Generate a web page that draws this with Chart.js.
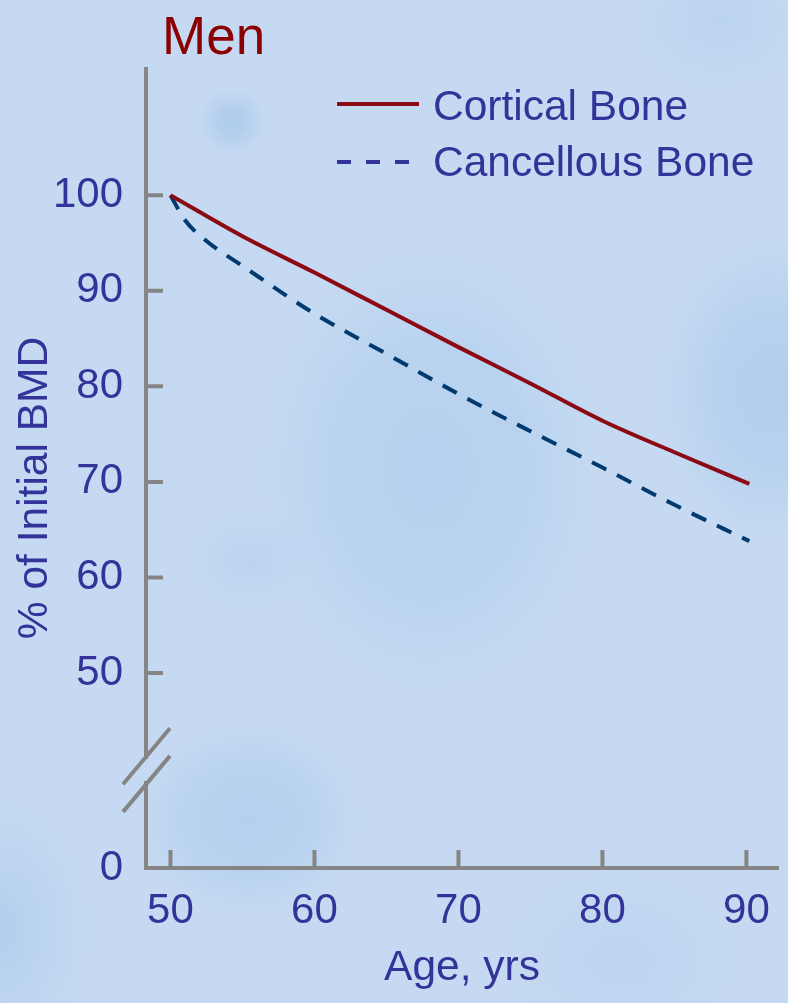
<!DOCTYPE html>
<html>
<head>
<meta charset="utf-8">
<title>Men - % of Initial BMD</title>
<script src="https://cdn.jsdelivr.net/npm/chart.js@4.4.1/dist/chart.umd.min.js"></script>
<style>
  html, body { margin: 0; padding: 0; }
  body {
    width: 788px;
    height: 1003px;
    overflow: hidden;
    background-color: #c5daf2;
    background-image:
      radial-gradient(circle at 232px 122px, #aecbec 0, #b4cfee 14px, rgba(197,218,242,0) 34px),
      radial-gradient(ellipse 170px 220px at 430px 470px, #b6d1ef 0, #b9d3ef 55%, rgba(197,218,242,0) 100%),
      radial-gradient(ellipse 110px 150px at 770px 390px, #b3cfee 0, #b7d1ef 50%, rgba(197,218,242,0) 100%),
      radial-gradient(ellipse 110px 95px at 250px 820px, #b5d0ee 0, #b8d2ef 55%, rgba(197,218,242,0) 100%),
      radial-gradient(ellipse 90px 130px at 0px 930px, #b2ceed 0, rgba(197,218,242,0) 100%),
      radial-gradient(ellipse 90px 70px at 720px 20px, #bad3ef 0, rgba(197,218,242,0) 100%),
      radial-gradient(ellipse 60px 50px at 250px 560px, #bad3ef 0, rgba(197,218,242,0) 100%),
      radial-gradient(ellipse 120px 90px at 620px 960px, #bcd4f0 0, rgba(197,218,242,0) 100%);
  }
  #wrap { position: relative; width: 788px; height: 1003px; }
</style>
</head>
<body>
<div id="wrap"><canvas id="bmdChart" width="788" height="1003"></canvas></div>
<script>
// ---- data ----
const corticalAges = [50, 55, 60, 65, 70, 75, 80, 85, 90.2];
const corticalBone = [100, 95.7, 91.9, 88.0, 84.1, 80.3, 76.4, 73.1, 69.8];

const cancellousAges = [50, 51, 52.5, 55, 60, 65, 70, 75, 80, 85, 90.2];
const cancellousBone = [100, 97.4, 95.2, 92.6, 87.6, 83.4, 79.2, 75.3, 71.5, 67.6, 63.8];

const xTickValues = [50, 60, 70, 80, 90];
// the lowest tick sits below the axis break and stands for 0
const yTickValues = [29.6, 50, 60, 70, 80, 90, 100];
const yTickLabels = ['0', '50', '60', '70', '80', '90', '100'];

const seriesNames = ['Cortical Bone', 'Cancellous Bone'];
const chartTitle = 'Men';
const xTitle = 'Age, yrs';
const yTitle = '% of Initial BMD';

// ---- styling ----
const FONT = "'Liberation Sans', Arial, Helvetica, sans-serif";
const TEXT_BLUE = '#333399';
const AXIS_GREY = '#858585';
const RED = '#8b0a14';
const NAVY = '#003a6e';
const BREAK_AT = [41.3, 38.4];

const toPoints = (xs, ys) => xs.map((x, i) => ({ x, y: ys[i] }));

const decorPlugin = {
  id: 'decor',
  afterDraw(chart) {
    const { ctx, chartArea, scales: { x, y } } = chart;
    ctx.save();

    // inward tick marks
    ctx.strokeStyle = AXIS_GREY;
    ctx.lineWidth = 4;
    ctx.lineCap = 'butt';
    ctx.beginPath();
    xTickValues.forEach(v => {
      const px = x.getPixelForValue(v);
      ctx.moveTo(px, chartArea.bottom);
      ctx.lineTo(px, chartArea.bottom - 18);
    });
    yTickValues.slice(1).forEach(v => {
      const py = y.getPixelForValue(v);
      ctx.moveTo(chartArea.left, py);
      ctx.lineTo(chartArea.left + 17, py);
    });
    ctx.stroke();

    // axis break
    const b1 = y.getPixelForValue(BREAK_AT[0]);
    const b2 = y.getPixelForValue(BREAK_AT[1]);
    ctx.clearRect(chartArea.left - 4, b1 + 3, 8, b2 - b1 - 6);
    ctx.beginPath();
    [b1, b2].forEach(py => {
      ctx.moveTo(chartArea.left - 23, py + 28);
      ctx.lineTo(chartArea.left + 24, py - 28);
    });
    ctx.stroke();

    // title
    ctx.fillStyle = '#8b0000';
    ctx.font = `53px ${FONT}`;
    ctx.textAlign = 'left';
    ctx.textBaseline = 'alphabetic';
    ctx.fillText(chartTitle, 162, 54);

    // legend
    ctx.lineWidth = 4;
    ctx.strokeStyle = RED;
    ctx.beginPath();
    ctx.moveTo(337, 104);
    ctx.lineTo(419, 104);
    ctx.stroke();
    ctx.strokeStyle = TEXT_BLUE;
    ctx.setLineDash([14, 15]);
    ctx.beginPath();
    ctx.moveTo(337, 162);
    ctx.lineTo(411, 162);
    ctx.stroke();
    ctx.setLineDash([]);
    ctx.fillStyle = TEXT_BLUE;
    ctx.font = `42.5px ${FONT}`;
    ctx.fillText(seriesNames[0], 433, 120);
    ctx.fillText(seriesNames[1], 433, 176);

    // y axis title
    ctx.translate(47, 488);
    ctx.rotate(-Math.PI / 2);
    ctx.textAlign = 'center';
    ctx.fillText(yTitle, 0, 0);

    ctx.restore();
  }
};

new Chart(document.getElementById('bmdChart'), {
  type: 'line',
  data: {
    datasets: [
      {
        label: seriesNames[0],
        data: toPoints(corticalAges, corticalBone),
        borderColor: RED,
        borderWidth: 4,
        pointRadius: 0,
        cubicInterpolationMode: 'monotone',
        fill: false,
      },
      {
        label: seriesNames[1],
        data: toPoints(cancellousAges, cancellousBone),
        borderColor: NAVY,
        borderWidth: 4,
        borderDash: [16, 12],
        pointRadius: 0,
        cubicInterpolationMode: 'monotone',
        fill: false,
      },
    ],
  },
  options: {
    responsive: false,
    animation: false,
    layout: { padding: { top: 69, right: 8, bottom: 0, left: 0 } },
    plugins: {
      legend: { display: false },
      title: { display: false },
      tooltip: { enabled: false },
    },
    scales: {
      x: {
        type: 'linear',
        min: 48.3,
        max: 92.2,
        afterBuildTicks: scale => { scale.ticks = xTickValues.map(value => ({ value })); },
        afterFit: scale => { scale.height = 135; },
        grid: { drawOnChartArea: false, drawTicks: false },
        border: { display: true, color: AXIS_GREY, width: 4 },
        ticks: {
          autoSkip: false,
          maxRotation: 0,
          padding: 17.8,
          color: TEXT_BLUE,
          font: { family: FONT, size: 42 },
        },
        title: {
          display: true,
          text: xTitle,
          color: TEXT_BLUE,
          font: { family: FONT, size: 42.5 },
          padding: { top: 0, bottom: 8.9 },
        },
      },
      y: {
        type: 'linear',
        min: 29.6,
        max: 113.2,
        afterBuildTicks: scale => { scale.ticks = yTickValues.map(value => ({ value })); },
        afterFit: scale => { scale.width = 146; },
        grid: { drawOnChartArea: false, drawTicks: false },
        border: { display: true, color: AXIS_GREY, width: 4 },
        ticks: {
          autoSkip: false,
          padding: 23,
          color: TEXT_BLUE,
          font: { family: FONT, size: 42 },
          callback: (value, index) => yTickLabels[index],
        },
      },
    },
  },
  plugins: [decorPlugin],
});
</script>
</body>
</html>
